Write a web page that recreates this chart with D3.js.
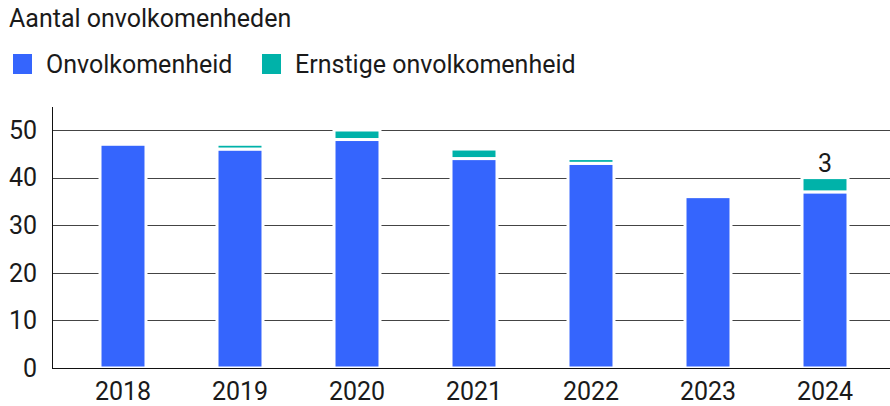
<!DOCTYPE html>
<html>
<head>
<meta charset="utf-8">
<script src="https://cdn.jsdelivr.net/npm/d3@7"></script>
<style>
  body { margin: 0; background: #fff; }
  text { font-family: Roboto, sans-serif; fill: #1a1a1a; font-size: 25px; }
</style>
</head>
<body>
<div id="chart"></div>
<script>
// chart data
var years = ["2018", "2019", "2020", "2021", "2022", "2023", "2024"];
var onvolkomenheid = [47, 46, 48, 44, 43, 36, 37];
var ernstig = [0, 1, 2, 2, 1, 0, 3];
var seriesNames = ["Onvolkomenheid", "Ernstige onvolkomenheid"];
var yTicks = [0, 10, 20, 30, 40, 50];
var labelYears = ["2024"]; // only this one shows a value label

var svgWidth = 890;
var svgHeight = 406;
var colors = ["#3565fd", "#00b2a9"];

var svg = d3.select("#chart")
    .append("svg")
    .attr("width", svgWidth)
    .attr("height", svgHeight);

// title
svg.append("text")
    .attr("x", 9)
    .attr("y", 27)
    .text("Aantal onvolkomenheden");

// legend
var legendX = [13, 262];
seriesNames.forEach(function(name, i) {
    svg.append("rect")
        .attr("x", legendX[i])
        .attr("y", 54)
        .attr("width", 19)
        .attr("height", 20)
        .attr("fill", colors[i]);
    svg.append("text")
        .attr("x", legendX[i] + 33)
        .attr("y", 73)
        .text(name);
});

// scales
var x = d3.scaleBand()
    .domain(years)
    .range([64.5, 883.5])
    .paddingInner(0.607)
    .paddingOuter(0.3035);

var y = d3.scaleLinear()
    .domain([0, 50])
    .range([368, 130]);

// gridlines
svg.append("g")
    .selectAll("line")
    .data(yTicks.slice(1))
    .enter()
    .append("line")
    .attr("x1", 52)
    .attr("x2", 890)
    .attr("y1", d => Math.round(y(d)) + 0.5)
    .attr("y2", d => Math.round(y(d)) + 0.5)
    .attr("stroke", "#444")
    .attr("stroke-width", 1);

// y labels
svg.append("g")
    .selectAll("text")
    .data(yTicks)
    .enter()
    .append("text")
    .attr("x", 37)
    .attr("y", d => y(d))
    .attr("dy", "0.35em")
    .attr("text-anchor", "end")
    .text(d => d);

// stacked bars
var rows = years.map(function(yr, i) {
    return { year: yr, a: onvolkomenheid[i], b: ernstig[i] };
});
var stack = d3.stack().keys(["a", "b"])(rows);

stack.forEach(function(layer, k) {
    svg.append("g")
        .selectAll("rect")
        .data(layer.filter(d => d[1] - d[0] > 0))
        .enter()
        .append("rect")
        .attr("x", d => x(d.data.year))
        .attr("width", x.bandwidth())
        .attr("y", d => y(d[1]))
        .attr("height", d => y(d[0]) - y(d[1]))
        .attr("fill", colors[k])
        .attr("stroke", "#fff")
        .attr("stroke-width", 3);
});

// value label on top of the stack
svg.append("g")
    .selectAll("text")
    .data(rows.filter(d => labelYears.indexOf(d.year) >= 0))
    .enter()
    .append("text")
    .attr("x", d => x(d.year) + x.bandwidth() / 2)
    .attr("y", d => y(d.a + d.b) - 6)
    .attr("text-anchor", "middle")
    .text(d => d.b);

// axes lines
svg.append("line")
    .attr("x1", 52.5).attr("x2", 52.5)
    .attr("y1", 107).attr("y2", 369)
    .attr("stroke", "#111");
svg.append("line")
    .attr("x1", 52).attr("x2", 890)
    .attr("y1", 368.5).attr("y2", 368.5)
    .attr("stroke", "#111");

// x labels
svg.append("g")
    .selectAll("text")
    .data(years)
    .enter()
    .append("text")
    .attr("x", d => x(d) + x.bandwidth() / 2)
    .attr("y", 400)
    .attr("text-anchor", "middle")
    .text(d => d);
</script>
</body>
</html>
